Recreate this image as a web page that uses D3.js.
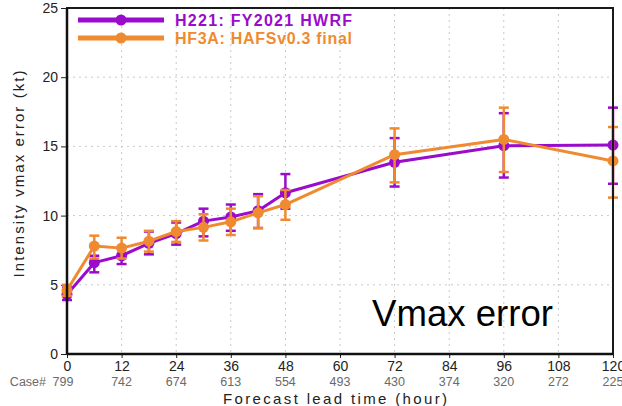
<!DOCTYPE html>
<html>
<head>
<meta charset="utf-8">
<script src="https://cdn.jsdelivr.net/npm/d3@7"></script>
<style>
  html, body { margin: 0; padding: 0; background: #fff; }
  svg { display: block; }
</style>
</head>
<body>
<svg id="chart" width="622" height="406"></svg>
<script>
// ---- data ----
const hours = [0, 6, 12, 18, 24, 30, 36, 42, 48, 72, 96, 120];
const h221 = [4.3, 6.6, 7.1, 8.0, 8.7, 9.6, 9.9, 10.35, 11.65, 13.85, 15.05, 15.1];
const h221Lo = [3.9, 5.9, 6.5, 7.2, 7.9, 8.5, 8.9, 9.1, 10.5, 12.1, 12.75, 12.3];
const h221Hi = [4.8, 7.1, 7.7, 8.85, 9.5, 10.5, 10.8, 11.55, 13.0, 15.6, 17.4, 17.8];
const hf3a = [4.6, 7.8, 7.65, 8.15, 8.85, 9.15, 9.55, 10.2, 10.8, 14.4, 15.5, 13.95];
const hf3aLo = [4.2, 6.9, 6.9, 7.4, 8.1, 8.2, 8.6, 9.1, 9.7, 12.4, 13.15, 11.3];
const hf3aHi = [5.0, 8.55, 8.4, 8.9, 9.6, 10.1, 10.5, 11.4, 11.85, 16.3, 17.8, 16.4];
const xTicks = [0, 12, 24, 36, 48, 60, 72, 84, 96, 108, 120];
const caseCounts = [799, 742, 674, 613, 554, 493, 430, 374, 320, 272, 225];
const yTicks = [0, 5, 10, 15, 20, 25];
const seriesNames = ["H221: FY2021  HWRF", "HF3A:  HAFSv0.3  final"];
const seriesColors = ["#9a0bcc", "#f08a30"];

// ---- layout ----
const L = 67, R = 613, T = 8, B = 354;
const svg = d3.select("#chart");
const x = d3.scaleLinear().domain([0, 120]).range([L, R]);
const y = d3.scaleLinear().domain([0, 25]).range([B, T]);
const font = "Liberation Sans, Arial, sans-serif";

// grid
const grid = svg.append("g");
grid.selectAll("line.gx").data(xTicks.slice(1, -1)).join("line")
  .attr("x1", d => x(d)).attr("x2", d => x(d)).attr("y1", T).attr("y2", B)
  .attr("stroke", "#c8c8c8").attr("stroke-width", 1).attr("stroke-dasharray", "2,4");
grid.selectAll("line.gy").data(yTicks.slice(1, -1)).join("line")
  .attr("x1", L).attr("x2", R).attr("y1", d => y(d)).attr("y2", d => y(d))
  .attr("stroke", "#c8c8c8").attr("stroke-width", 1).attr("stroke-dasharray", "2,4");

// axes
const yAxis = svg.append("g").attr("transform", `translate(${L},0)`)
  .call(d3.axisLeft(y).tickValues(yTicks).tickSize(6).tickPadding(3).tickFormat(d3.format("d")));
yAxis.select(".domain").remove();
yAxis.selectAll("text").attr("font-family", font).attr("font-size", 14).attr("fill", "#222");
yAxis.selectAll("line").attr("stroke", "#222");

const xAxis = svg.append("g").attr("transform", `translate(0,${B})`)
  .call(d3.axisBottom(x).tickValues(xTicks).tickSize(4).tickPadding(3).tickFormat(d3.format("d")));
xAxis.select(".domain").remove();
xAxis.selectAll("text").attr("font-family", font).attr("font-size", 14).attr("fill", "#222");
xAxis.selectAll("line").attr("stroke", "#222");

// case counts
svg.append("g").selectAll("text").data(xTicks).join("text")
  .attr("x", (d, i) => x(d) - (i === 0 ? 4 : 0)).attr("y", 386)
  .attr("text-anchor", "middle").attr("font-family", font).attr("font-size", 12.5)
  .attr("fill", "#6a6a6a").text((d, i) => caseCounts[i]);
svg.append("text").attr("x", 46).attr("y", 386).attr("text-anchor", "end")
  .attr("font-family", font).attr("font-size", 12.5).attr("fill", "#6a6a6a").text("Case#");

// titles
svg.append("text").attr("x", 335).attr("y", 404).attr("text-anchor", "middle")
  .attr("font-family", font).attr("font-size", 15).attr("fill", "#222")
  .attr("textLength", 224).attr("lengthAdjust", "spacing")
  .text("Forecast lead time (hour)");
svg.append("text").attr("transform", "translate(24,174) rotate(-90)")
  .attr("text-anchor", "middle").attr("font-family", font).attr("font-size", 15).attr("fill", "#222")
  .attr("textLength", 207).attr("lengthAdjust", "spacing")
  .text("Intensity vmax error (kt)");

// series
const series = [
  { v: h221, lo: h221Lo, hi: h221Hi, c: seriesColors[0] },
  { v: hf3a, lo: hf3aLo, hi: hf3aHi, c: seriesColors[1] }
];
const line = d3.line().x(d => x(d[0])).y(d => y(d[1]));
series.forEach(s => {
  const g = svg.append("g");
  const pts = hours.map((h, i) => [h, s.v[i]]);
  g.append("path").datum(pts).attr("d", line).attr("fill", "none")
    .attr("stroke", s.c).attr("stroke-width", 3).attr("stroke-linejoin", "round");
  g.selectAll("line.eb").data(hours).join("line")
    .attr("x1", d => x(d)).attr("x2", d => x(d))
    .attr("y1", (d, i) => y(s.lo[i])).attr("y2", (d, i) => y(s.hi[i]))
    .attr("stroke", s.c).attr("stroke-width", 2.5);
  ["lo", "hi"].forEach(k => {
    g.selectAll("line.cap" + k).data(hours).join("line")
      .attr("x1", d => x(d) - 5).attr("x2", d => x(d) + 5)
      .attr("y1", (d, i) => y(s[k][i])).attr("y2", (d, i) => y(s[k][i]))
      .attr("stroke", s.c).attr("stroke-width", 2.5);
  });
  g.selectAll("circle").data(pts).join("circle")
    .attr("cx", d => x(d[0])).attr("cy", d => y(d[1])).attr("r", 5.5).attr("fill", s.c);
});

// frame
svg.append("rect").attr("x", L).attr("y", T).attr("width", R - L).attr("height", B - T)
  .attr("fill", "none").attr("stroke", "#1a1a1a").attr("stroke-width", 2);
svg.append("line").attr("x1", L).attr("x2", L).attr("y1", T).attr("y2", B)
  .attr("stroke", "#111").attr("stroke-width", 2.5);
svg.append("line").attr("x1", L).attr("x2", R).attr("y1", B).attr("y2", B)
  .attr("stroke", "#111").attr("stroke-width", 2.5);

// legend
const leg = svg.append("g");
seriesNames.forEach((name, i) => {
  const ly = 20 + i * 18;
  leg.append("line").attr("x1", 78).attr("x2", 164).attr("y1", ly).attr("y2", ly)
    .attr("stroke", seriesColors[i]).attr("stroke-width", 5);
  leg.append("circle").attr("cx", 121).attr("cy", ly).attr("r", 5.5).attr("fill", seriesColors[i]);
  leg.append("text").attr("x", 175).attr("y", ly + 6).attr("font-family", font)
    .attr("font-size", 16).attr("font-weight", "bold").attr("fill", seriesColors[i])
    .attr("textLength", 177).attr("lengthAdjust", "spacing").text(name);
});

// annotation
svg.append("text").attr("x", 372).attr("y", 326).attr("font-family", "Liberation Sans, Arial, sans-serif")
  .attr("font-size", 36).attr("fill", "#000")
  .attr("textLength", 181).attr("lengthAdjust", "spacingAndGlyphs").text("Vmax error");
</script>
</body>
</html>
